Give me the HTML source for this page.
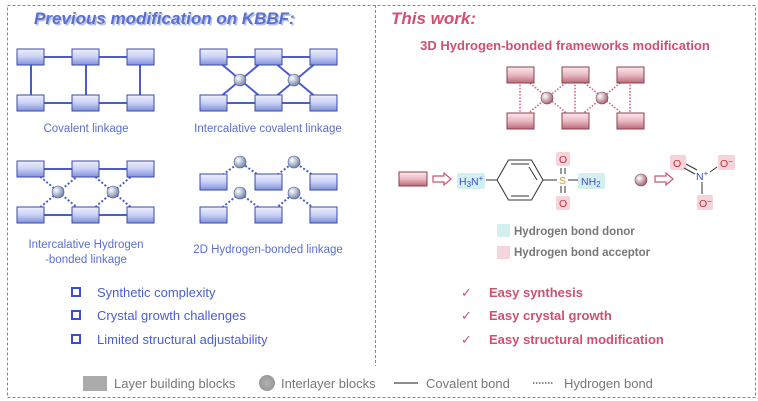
<!DOCTYPE html>
<html><head><meta charset="utf-8"><style>
html,body{margin:0;padding:0;background:#fff;}
svg{display:block;font-family:"Liberation Sans",sans-serif;}
</style></head><body>
<svg width="758" height="401" viewBox="0 0 758 401" xmlns="http://www.w3.org/2000/svg">
<defs>
<linearGradient id="bb" x1="0" y1="0" x2="0" y2="1"><stop offset="0" stop-color="#eef1ff"/><stop offset="0.5" stop-color="#c8d0f5"/><stop offset="1" stop-color="#8090d8"/></linearGradient>
<linearGradient id="pb" x1="0" y1="0" x2="0" y2="1"><stop offset="0" stop-color="#fbe8ec"/><stop offset="0.5" stop-color="#eab8c2"/><stop offset="1" stop-color="#b86a7a"/></linearGradient>
<radialGradient id="bs" cx="0.35" cy="0.35" r="0.7"><stop offset="0" stop-color="#fff"/><stop offset="1" stop-color="#6f7fa8"/></radialGradient>
<radialGradient id="ps" cx="0.35" cy="0.35" r="0.7"><stop offset="0" stop-color="#fff"/><stop offset="1" stop-color="#a06070"/></radialGradient>
<radialGradient id="gs" cx="0.5" cy="0.5" r="0.5"><stop offset="0" stop-color="#b0b0b0"/><stop offset="1" stop-color="#999"/></radialGradient>
</defs>
<rect x="7.5" y="5.5" width="748" height="392" fill="none" stroke="#888" stroke-dasharray="3,2"/>
<line x1="375.5" y1="5" x2="375.5" y2="366" stroke="#888" stroke-dasharray="3,2"/>

<text x="34" y="24" font-size="17" font-weight="bold" font-style="italic" fill="#b8c2ec" transform="translate(1.5,1.5)">Previous modification on KBBF:</text>
<text x="34" y="24" font-size="17" font-weight="bold" font-style="italic" fill="#5a6fd0">Previous modification on KBBF:</text>
<text x="391" y="24" font-size="17" font-weight="bold" font-style="italic" fill="#d05070">This work:</text>

<g stroke="#4a5ccc" stroke-width="2" fill="none">
<line x1="30" y1="57" x2="140" y2="57"/><line x1="30" y1="103" x2="140" y2="103"/>
<line x1="31" y1="57" x2="31" y2="103"/><line x1="86" y1="57" x2="86" y2="103"/><line x1="140" y1="57" x2="140" y2="103"/>
<line x1="213" y1="57" x2="323" y2="57"/><line x1="213" y1="103" x2="323" y2="103"/>
<polyline points="213,57 268,103 323,57"/><polyline points="213,103 268,57 323,103"/>
<line x1="30" y1="169" x2="140" y2="169"/><line x1="30" y1="215" x2="140" y2="215"/>
<g stroke-dasharray="2,2"><polyline points="31,169 86,215 140,169"/><polyline points="31,215 86,169 140,215"/>
<polyline points="213,182 240,162 268,182 294,162 323,182"/>
<polyline points="213,215 240,193 268,215 294,193 323,215"/></g>
</g>
<g fill="url(#bb)" stroke="#3a4aaa" stroke-width="1">
<rect x="17" y="49" width="27" height="16"/><rect x="72" y="49" width="27" height="16"/><rect x="127" y="49" width="27" height="16"/>
<rect x="17" y="95" width="27" height="16"/><rect x="72" y="95" width="27" height="16"/><rect x="127" y="95" width="27" height="16"/>
<rect x="200" y="49" width="27" height="16"/><rect x="255" y="49" width="27" height="16"/><rect x="310" y="49" width="27" height="16"/>
<rect x="200" y="95" width="27" height="16"/><rect x="255" y="95" width="27" height="16"/><rect x="310" y="95" width="27" height="16"/>
<rect x="17" y="161" width="27" height="16"/><rect x="72" y="161" width="27" height="16"/><rect x="127" y="161" width="27" height="16"/>
<rect x="17" y="207" width="27" height="16"/><rect x="72" y="207" width="27" height="16"/><rect x="127" y="207" width="27" height="16"/>
<rect x="200" y="174" width="27" height="16"/><rect x="255" y="174" width="27" height="16"/><rect x="310" y="174" width="27" height="16"/>
<rect x="200" y="207" width="27" height="16"/><rect x="255" y="207" width="27" height="16"/><rect x="310" y="207" width="27" height="16"/>
</g>
<g fill="url(#bs)" stroke="#4a5a90" stroke-width="0.6">
<circle cx="240" cy="80" r="6"/><circle cx="294" cy="80" r="6"/>
<circle cx="58" cy="192" r="6"/><circle cx="113" cy="192" r="6"/>
<circle cx="240" cy="162" r="6"/><circle cx="294" cy="162" r="6"/>
<circle cx="240" cy="193" r="6"/><circle cx="294" cy="193" r="6"/>
</g>
<g font-size="11.5" fill="#5a6fd0" text-anchor="middle">
<text x="86" y="132">Covalent linkage</text>
<text x="268" y="132">Intercalative covalent linkage</text>
<text x="86" y="248">Intercalative Hydrogen</text>
<text x="86" y="263">-bonded linkage</text>
<text x="268" y="253">2D Hydrogen-bonded linkage</text>
</g>
<g fill="none" stroke="#3a4ed0" stroke-width="2">
<rect x="72" y="288" width="8" height="8"/><rect x="72" y="311" width="8" height="8"/><rect x="72" y="335" width="8" height="8"/>
</g>
<g font-size="13" fill="#4a5ed0">
<text x="97" y="297">Synthetic complexity</text>
<text x="97" y="320">Crystal growth challenges</text>
<text x="97" y="344">Limited structural adjustability</text>
</g>

<text x="565" y="50" font-size="13" font-weight="bold" fill="#d05070" text-anchor="middle">3D Hydrogen-bonded frameworks modification</text>
<g stroke="#e06580" stroke-width="1.6" stroke-dasharray="1.6,1.6" fill="none">
<line x1="520" y1="75" x2="520" y2="120"/><line x1="575" y1="75" x2="575" y2="120"/><line x1="630" y1="75" x2="630" y2="120"/>
<polyline points="520,75 575,120 630,75"/><polyline points="520,120 575,75 630,120"/>
</g>
<g fill="url(#pb)" stroke="#8a4050" stroke-width="1">
<rect x="507" y="67" width="27" height="16"/><rect x="562" y="67" width="27" height="16"/><rect x="617" y="67" width="27" height="16"/>
<rect x="507" y="113" width="27" height="16"/><rect x="562" y="113" width="27" height="16"/><rect x="617" y="113" width="27" height="16"/>
<rect x="399" y="172" width="28" height="14"/>
</g>
<g fill="url(#ps)" stroke="#804050" stroke-width="0.6">
<circle cx="547" cy="98" r="6"/><circle cx="602" cy="98" r="6"/><circle cx="641" cy="180" r="6"/>
</g>
<g fill="#fff" stroke="#d05070" stroke-width="1.2">
<path d="M433,176 h11 v-3 l7,6 l-7,6 v-3 h-11 z"/>
<path d="M655,176 h11 v-3 l7,6 l-7,6 v-3 h-11 z"/>
</g>
<g fill="#d4f0ee"><rect x="457" y="173" width="28" height="16" rx="2"/><rect x="578" y="173" width="27" height="16" rx="2"/><rect x="497" y="224" width="13" height="13"/></g>
<g fill="#f5d4da"><rect x="556" y="152" width="14" height="14" rx="2"/><rect x="556" y="196" width="14" height="14" rx="2"/>
<rect x="670" y="155" width="16" height="15" rx="2"/><rect x="718" y="155" width="17" height="15" rx="2"/><rect x="697" y="195" width="16" height="15" rx="2"/><rect x="497" y="246" width="13" height="13"/></g>
<g stroke="#333" stroke-width="1" fill="none">
<polygon points="497,180 508.5,160 531.5,160 543,180 531.5,200 508.5,200"/>
<line x1="511" y1="164" x2="529" y2="164"/><line x1="511" y1="196" x2="529" y2="196"/><line x1="537" y1="180" x2="529" y2="167"/>
<line x1="486" y1="180" x2="497" y2="180"/><line x1="543" y1="180" x2="557" y2="180"/><line x1="568" y1="180" x2="578" y2="180"/>
<line x1="561" y1="168" x2="561" y2="174"/><line x1="565" y1="168" x2="565" y2="174"/>
<line x1="561" y1="186" x2="561" y2="193"/><line x1="565" y1="186" x2="565" y2="193"/>
<line x1="686" y1="164" x2="697" y2="170"/><line x1="684" y1="168" x2="695" y2="174"/>
<line x1="710" y1="172" x2="717" y2="167"/><line x1="702" y1="182" x2="702" y2="194"/>
</g>
<g font-size="10.5">
<text x="459" y="185" fill="#3a4ed0">H<tspan font-size="8" dy="2">3</tspan><tspan dy="-2">N</tspan><tspan font-size="8" dy="-4">+</tspan></text>
<text x="559" y="184" fill="#c8a040">S</text>
<text x="559" y="163" fill="#c03040">O</text><text x="559" y="207" fill="#c03040">O</text>
<text x="581" y="185" fill="#3a4ed0">NH<tspan font-size="8" dy="2">2</tspan></text>
<text x="673" y="167" fill="#c03040">O</text>
<text x="696" y="180" fill="#3a4ed0">N<tspan font-size="8" dy="-4">+</tspan></text>
<text x="720" y="167" fill="#c03040">O<tspan font-size="8" dy="-3">−</tspan></text>
<text x="699" y="207" fill="#c03040">O<tspan font-size="8" dy="-3">−</tspan></text>
</g>
<g font-size="11.5" font-weight="bold" fill="#777">
<text x="514" y="235">Hydrogen bond donor</text>
<text x="514" y="256">Hydrogen bond acceptor</text>
</g>
<g font-size="13" fill="#d05070">
<text x="461" y="297" font-size="13">✓</text><text x="461" y="320" font-size="13">✓</text><text x="461" y="344" font-size="13">✓</text>
<g font-weight="bold"><text x="489" y="297">Easy synthesis</text><text x="489" y="320">Easy crystal growth</text><text x="489" y="344">Easy structural modification</text></g>
</g>

<rect x="83" y="376" width="24" height="15" fill="#aaa"/>
<circle cx="267" cy="383" r="8" fill="url(#gs)"/>
<line x1="394" y1="383" x2="418" y2="383" stroke="#666" stroke-width="1.5"/>
<line x1="533" y1="383" x2="553" y2="383" stroke="#666" stroke-width="1.5" stroke-dasharray="1.5,1.5"/>
<g font-size="13" fill="#777">
<text x="114" y="388">Layer building blocks</text>
<text x="281" y="388">Interlayer blocks</text>
<text x="426" y="388">Covalent bond</text>
<text x="564" y="388">Hydrogen bond</text>
</g>
</svg>
</body></html>
